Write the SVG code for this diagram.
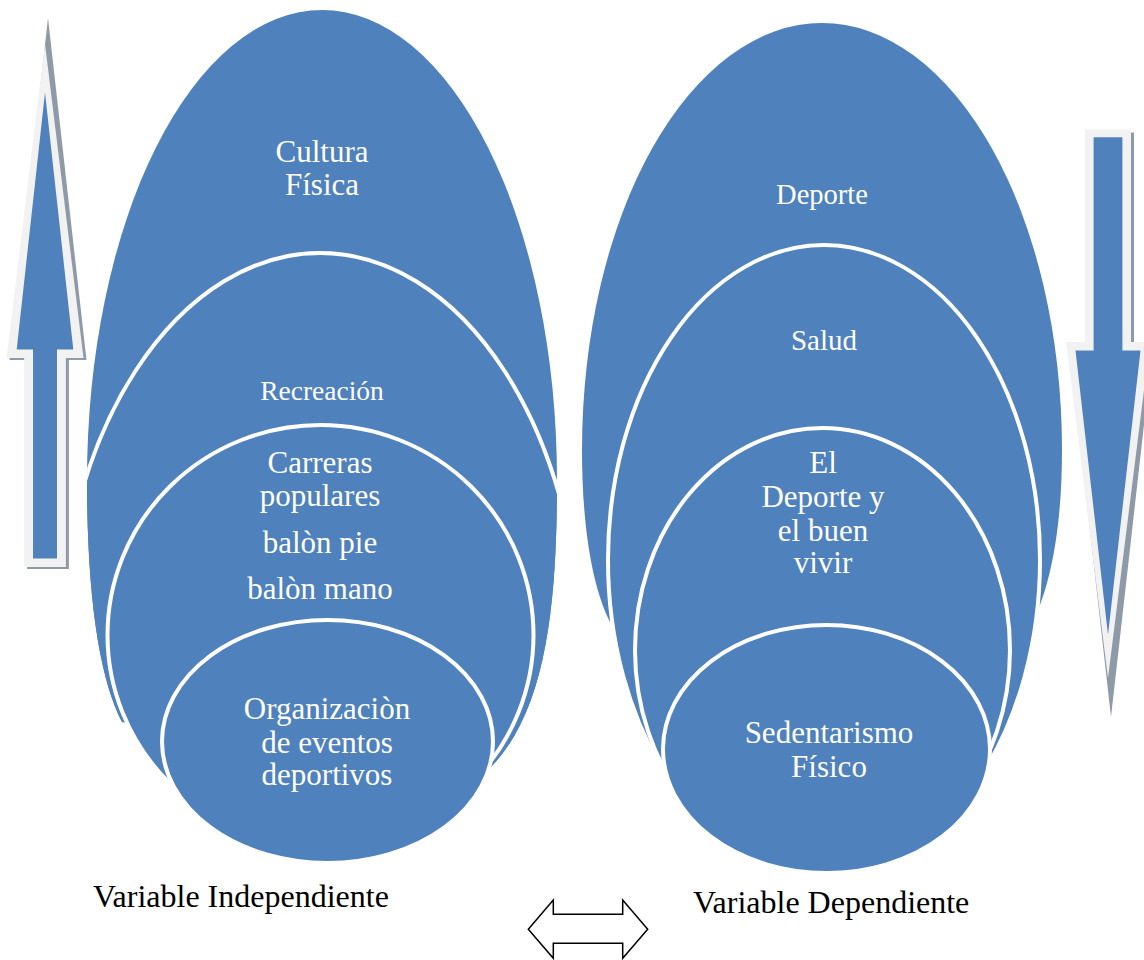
<svg xmlns="http://www.w3.org/2000/svg" width="1144" height="960" viewBox="0 0 1144 960">
  <style>
    .blob { fill: #4f81bd; }
    .ring { fill: #4f81bd; stroke: #ffffff; stroke-width: 4; }
    .lbl { font-family: "Liberation Serif", "Times New Roman", serif; fill: #ffffff; text-anchor: middle; }
    .cap { font-family: "Liberation Serif", "Times New Roman", serif; fill: #000000; font-size: 32px; }
    .shadow { fill: #8f9aa8; }
    .rim { fill: #f2f2f2; }
    .body { fill: #4f81bd; }
    .twin { fill: #ffffff; stroke: #000000; stroke-width: 1.5; stroke-linejoin: miter; }
  </style>
  <defs>
    <clipPath id="clipOuterL">
      <path d="M122,722 C100,680 87,600 87,480 A235,470 0 0 1 557,480 C557,610 545,712 490,768 Z"/>
    </clipPath>
  </defs>
  <rect width="1144" height="960" fill="#ffffff"/>

  <!-- left stack: independent variable -->
  <g id="cultura-fisica">
    <path class="blob" d="M122,722 C100,680 87,600 87,480 A235,470 0 0 1 557,480 C557,610 545,712 490,768 Z"/>
    <text class="lbl" font-size="31" x="322" y="162">Cultura</text>
    <text class="lbl" font-size="31" x="322" y="195">Física</text>
  </g>
  <g id="recreacion">
    <ellipse class="ring" clip-path="url(#clipOuterL)" cx="320" cy="656" rx="261" ry="403"/>
    <text class="lbl" font-size="27.5" x="322" y="400">Recreación</text>
  </g>
  <g id="carreras">
    <ellipse class="ring" cx="320.5" cy="635" rx="213" ry="210"/>
    <text class="lbl" font-size="31" x="320" y="473">Carreras</text>
    <text class="lbl" font-size="31" x="320" y="506">populares</text>
    <text class="lbl" font-size="31" x="320" y="553">balòn pie</text>
    <text class="lbl" font-size="31" x="320" y="599">balòn mano</text>
  </g>
  <g id="organizacion">
    <ellipse class="ring" cx="327.5" cy="741.5" rx="165.5" ry="121.5"/>
    <text class="lbl" font-size="31" x="327" y="719">Organizaciòn</text>
    <text class="lbl" font-size="31" x="327" y="753">de eventos</text>
    <text class="lbl" font-size="31" x="327" y="785">deportivos</text>
  </g>

  <!-- right stack: dependent variable -->
  <g id="deporte">
    <path class="blob" d="M610,622 C596,595 582,540 582,450 A240,427 0 0 1 1062,450 C1062,530 1050,580 1038,610 Z"/>
    <text class="lbl" font-size="28.5" x="822" y="204">Deporte</text>
  </g>
  <g id="salud">
    <ellipse class="ring" cx="824" cy="560" rx="216" ry="315"/>
    <text class="lbl" font-size="29" x="824" y="350">Salud</text>
  </g>
  <g id="buen-vivir">
    <ellipse class="ring" cx="822.5" cy="650" rx="187.5" ry="222"/>
    <text class="lbl" font-size="31" x="823" y="473">El</text>
    <text class="lbl" font-size="31" x="823" y="507">Deporte y</text>
    <text class="lbl" font-size="31" x="823" y="541">el buen</text>
    <text class="lbl" font-size="31" x="823" y="573">vivir</text>
  </g>
  <g id="sedentarismo">
    <ellipse class="ring" cx="826.5" cy="749" rx="163.5" ry="124"/>
    <text class="lbl" font-size="31" x="829" y="743">Sedentarismo</text>
    <text class="lbl" font-size="31" x="829" y="777">Físico</text>
  </g>

  <!-- block arrows -->
  <g id="connectors">
    <g id="arrow-up">
      <polygon class="shadow" points="48,18 86.5,360 68.9,360 68.9,569 27.1,569 27.1,360 9.5,360"/>
      <polygon class="rim" points="45,44 83.5,358 65.9,358 65.9,567 24.1,567 24.1,358 6.5,358"/>
      <polygon class="body" points="45,92.5 73.3,349.6 57,349.6 57,558.6 33,558.6 33,349.6 16.7,349.6"/>
    </g>
    <g id="arrow-down">
      <polygon class="shadow" points="1088,132.6 1134,132.6 1134,345 1153,345 1111,717 1069,345 1088,345"/>
      <polygon class="rim" points="1085,129.6 1131,129.6 1131,342 1150,342 1108,678 1066,342 1085,342"/>
      <polygon class="body" points="1093.6,137.2 1122.4,137.2 1122.4,350.4 1140.5,350.4 1108,634.7 1075.5,350.4 1093.6,350.4"/>
    </g>
    <polygon id="arrow-both" class="twin" points="528.3,929.3 553.3,900 553.3,914.3 622.7,914.3 622.7,900 647.7,929.3 622.7,958.3 622.7,943.3 553.3,943.3 553.3,958.3"/>
  </g>

  <g id="captions">
    <text class="cap" x="93" y="907">Variable Independiente</text>
    <text class="cap" x="693" y="913">Variable Dependiente</text>
  </g>
</svg>
